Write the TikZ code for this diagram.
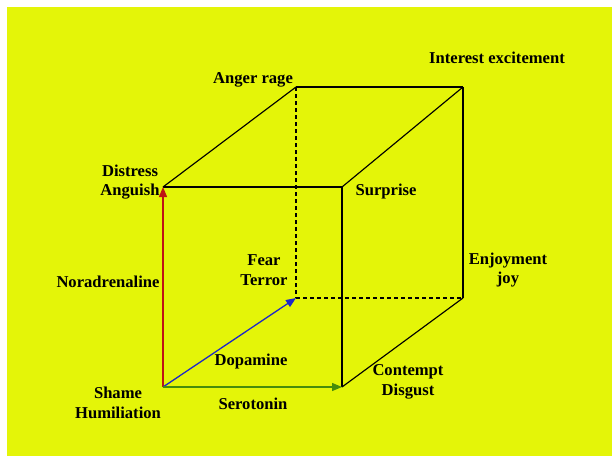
\documentclass[tikz,border=0pt]{standalone}
\usepackage{fontspec}
\setmainfont{Liberation Serif}
\usetikzlibrary{arrows.meta}
\definecolor{bgyellow}{RGB}{228,245,8}
\definecolor{arred}{RGB}{190,20,20}
\definecolor{arblue}{RGB}{30,40,200}
\definecolor{argreen}{RGB}{70,140,10}
\tikzset{
  lbl/.style={font=\fontsize{16.6}{19.5}\selectfont\bfseries, align=center, inner sep=0pt},
  edge/.style={draw=black, line width=1.15pt},
  hidden/.style={draw=black, line width=1.15pt, dash pattern=on 4pt off 3pt},
  axis/.style={line width=1.3pt, -{Triangle[length=10pt,width=8pt]}}
}
\begin{document}
\begin{tikzpicture}[x=1pt,y=-1pt]
\useasboundingbox (0,0) rectangle (612,458);
\fill[bgyellow] (7,7) rectangle (612,456);
% cube corners
\coordinate (ftl) at (163,187);
\coordinate (ftr) at (342,187);
\coordinate (fbl) at (163,387);
\coordinate (fbr) at (342,387);
\coordinate (btl) at (296,87);
\coordinate (btr) at (463,87);
\coordinate (bbl) at (296,298);
\coordinate (bbr) at (463,298);
% hidden edges
\draw[hidden] (btl) -- (bbl);
\draw[hidden] (bbl) -- (bbr);
% visible edges
\draw[edge] (ftl) -- (ftr);
\draw[edge] (ftr) -- (fbr);
\draw[edge] (ftl) -- (btl);
\draw[edge] (btl) -- (btr);
\draw[edge] (ftr) -- (btr);
\draw[edge] (btr) -- (bbr);
\draw[edge] (fbr) -- (bbr);
% axes
\draw[axis, arred] (fbl) -- (ftl);
\draw[axis, arblue] (fbl) -- (bbl);
\draw[axis, argreen] (fbl) -- (fbr);
% labels
\node[lbl] (interest) at (497,58) {Interest excitement};
\node[lbl] (anger) at (253,80) {Anger rage};
\node[lbl] (distress) at (130,182) {Distress\\Anguish};
\node[lbl] (surprise) at (386,192) {Surprise};
\node[lbl] (fear) at (264,270) {Fear\\Terror};
\node[lbl] (enjoy) at (508,270) {Enjoyment\\joy};
\node[lbl] (nor) at (108,282) {Noradrenaline};
\node[lbl] (dopa) at (251,362) {Dopamine};
\node[lbl] (shame) at (118,403) {Shame\\Humiliation};
\node[lbl] (sero) at (253,404) {Serotonin};
\node[lbl] (contempt) at (408,382) {Contempt\\Disgust};
\end{tikzpicture}
\end{document}
